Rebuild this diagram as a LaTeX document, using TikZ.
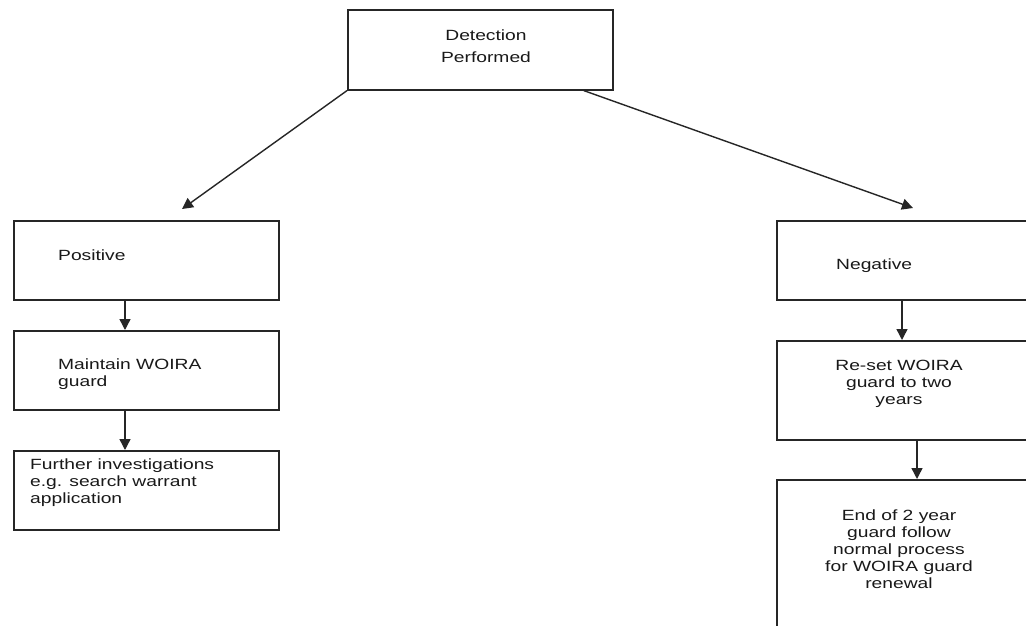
\documentclass[tikz,border=0pt]{standalone}
\usepackage{fontspec}
\setmainfont[FakeStretch=1.3]{Liberation Sans}
\usetikzlibrary{arrows.meta,calc}
\begin{document}
\begin{tikzpicture}[x=1pt,y=-1pt,
  box/.style={draw=black!85, line width=1.6pt, inner sep=0pt, anchor=north west},
  txt/.style={font=\fontsize{14.8}{17}\selectfont, inner sep=0pt, text=black!90},
  arr/.style={draw=black!85, line width=1.4pt, -{Triangle[length=11pt,width=11pt]}}]
\clip (0,0) rectangle (1026,626);
\fill[white] (0,0) rectangle (1026,626);
% boxes
\node[box, minimum width=265pt, minimum height=80pt] (top) at (347,9) {};
\node[box, minimum width=265pt, minimum height=79pt] (pos) at (13,220) {};
\node[box, minimum width=265pt, minimum height=79pt] (maint) at (13,330) {};
\node[box, minimum width=265pt, minimum height=79pt] (further) at (13,450) {};
\node[box, minimum width=264pt, minimum height=79pt] (neg) at (776,220) {};
\node[box, minimum width=264pt, minimum height=99pt] (reset) at (776,340) {};
\node[box, minimum width=264pt, minimum height=161pt] (end) at (776,479) {};
% texts (base anchor = baseline of the last line)
\node[txt, font=\fontsize{14.8}{22}\selectfont, align=center, anchor=base] (topT) at (486,63) {Detection\\Performed};
\node[txt, anchor=base west] (posT) at (58,260) {Positive};
\node[txt, align=left, anchor=base west] (maintT) at (58,386) {Maintain WOIRA\\guard};
\node[txt, align=left, anchor=base west] (furtherT) at (30,503) {Further investigations\\e.g. search warrant\\application};
\node[txt, anchor=base west] (negT) at (836,269) {Negative};
\node[txt, align=center, anchor=base] (resetT) at (899,404) {Re-set WOIRA\\guard to two\\years};
\node[txt, align=center, anchor=base] (endT) at (899,588) {End of 2 year\\guard follow\\normal process\\for WOIRA guard\\renewal};
% connector coordinates
\coordinate (tipL) at (182,209);
\coordinate (tipR) at (913,208);
\coordinate (cxL) at (125,0);
\coordinate (cxR1) at (902,0);
\coordinate (cxR2) at (917,0);
% connectors
\draw[arr] (top.south west) -- (tipL);
\draw[arr] ($(top.south)+(103.5,0)$) -- (tipR);
\draw[arr] (cxL |- pos.south) -- (cxL |- maint.north);
\draw[arr] (cxL |- maint.south) -- (cxL |- further.north);
\draw[arr] (cxR1 |- neg.south) -- (cxR1 |- reset.north);
\draw[arr] (cxR2 |- reset.south) -- (cxR2 |- end.north);
\end{tikzpicture}
\end{document}
